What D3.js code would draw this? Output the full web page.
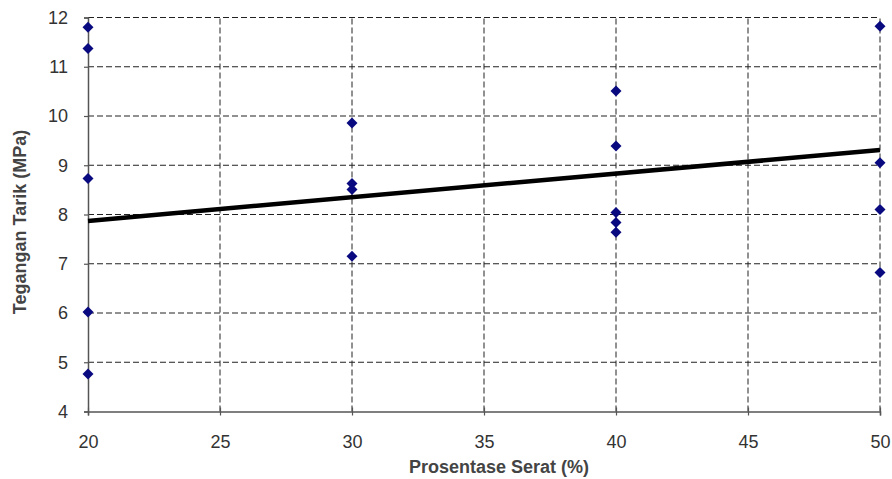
<!DOCTYPE html>
<html><head><meta charset="utf-8">
<script src="https://cdn.jsdelivr.net/npm/d3@7"></script>
<style>body{margin:0;background:#fff}svg{display:block}</style>
</head><body>
<svg id="c" width="892" height="479"></svg>
<script>
const xTicks = [20,25,30,35,40,45,50];
const yTicks = [4,5,6,7,8,9,10,11,12];
const pointX = [20,20,20,20,20, 30,30,30,30, 40,40,40,40,40, 50,50,50,50];
const pointY = [11.8,11.37,8.73,6.02,4.76, 9.86,8.63,8.51,7.15, 10.51,9.39,8.04,7.84,7.64, 11.82,9.05,8.1,6.82];
const trendX = [20,50];
const trendY = [7.87,9.31];

const svg = d3.select("#c");
const x = d3.scaleLinear().domain([20,50]).range([88,880]);
const y = d3.scaleLinear().domain([4,12]).range([411.5,17.5]);

// grid
svg.append("g").selectAll("line").data(yTicks.filter(d=>d>4)).join("line")
  .attr("x1",x(20)).attr("x2",x(50)).attr("y1",d=>y(d)).attr("y2",d=>y(d))
  .attr("stroke","#222").attr("stroke-width",1).attr("stroke-dasharray","6,3");
svg.append("g").selectAll("line").data(xTicks.filter(d=>d>20)).join("line")
  .attr("x1",d=>x(d)).attr("x2",d=>x(d)).attr("y1",y(4)).attr("y2",y(12))
  .attr("stroke","#222").attr("stroke-width",1).attr("stroke-dasharray","6,3");

// axes
const fontFam = "'Liberation Sans', Arial, sans-serif";
const gx = svg.append("g").attr("transform",`translate(0,${y(4)})`)
  .call(d3.axisBottom(x).tickValues(xTicks).tickSize(4).tickPadding(20));
const gy = svg.append("g").attr("transform",`translate(${x(20)},0)`)
  .call(d3.axisLeft(y).tickValues(yTicks).tickSize(4).tickPadding(16));
[gx,gy].forEach(g=>{
  g.select(".domain").attr("stroke","#555").attr("stroke-width",1.5);
  g.selectAll(".tick line").attr("stroke","#555").attr("stroke-width",1.2);
  g.selectAll(".tick text").attr("font-family",fontFam).attr("font-size",18).attr("fill","#333");
});
gx.selectAll(".tick line").attr("y1",-4);
gy.selectAll(".tick line").attr("x2",-4).attr("x1",0);

// trend line
svg.append("path").datum(trendX.map((d,i)=>[d,trendY[i]]))
  .attr("d",d3.line().x(d=>x(d[0])).y(d=>y(d[1])))
  .attr("stroke","#000").attr("stroke-width",4.5).attr("fill","none");

// points
svg.append("g").selectAll("path").data(pointX.map((d,i)=>[d,pointY[i]])).join("path")
  .attr("d","M0,-5.5L5.5,0L0,5.5L-5.5,0Z").attr("transform",d=>`translate(${x(d[0])},${y(d[1])})`)
  .attr("fill","#0a0a80");

// labels
svg.append("text").attr("x",499).attr("y",473).attr("text-anchor","middle")
  .attr("font-family",fontFam).attr("font-size",18).attr("font-weight","bold").attr("fill","#444").text("Prosentase Serat (%)");
svg.append("text").attr("transform",`translate(26,222) rotate(-90)`).attr("text-anchor","middle")
  .attr("font-family",fontFam).attr("font-size",18).attr("font-weight","bold").attr("fill","#444").text("Tegangan Tarik (MPa)");
</script>
</body></html>
